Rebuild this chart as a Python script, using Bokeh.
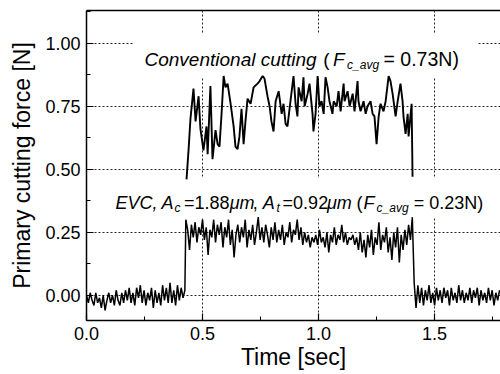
import numpy as np
from bokeh.plotting import figure
from bokeh.models import (Range1d, SingleIntervalTicker, PrintfTickFormatter, LinearAxis,
                          FixedTicker, Label, BoxAnnotation)
from bokeh.embed import file_html
from bokeh.resources import INLINE

# ---------------- data ----------------
# Conventional cutting signal
conv_t = [0.431, 0.440, 0.448, 0.461, 0.470, 0.483, 0.491, 0.504, 0.517, 0.522,
          0.534, 0.543, 0.556, 0.565, 0.573, 0.582, 0.591, 0.599, 0.608, 0.621,
          0.634, 0.642, 0.651, 0.659, 0.668, 0.677, 0.685, 0.694, 0.707, 0.720,
          0.737, 0.746, 0.759, 0.767, 0.780, 0.789, 0.797, 0.806, 0.815, 0.828,
          0.841, 0.849, 0.858, 0.866, 0.879, 0.892, 0.901, 0.909, 0.914, 0.927,
          0.935, 0.940, 0.953, 0.961, 0.974, 0.978, 0.987, 0.996, 1.004, 1.013,
          1.022, 1.030, 1.039, 1.047, 1.060, 1.065, 1.078, 1.086, 1.095, 1.108,
          1.112, 1.125, 1.134, 1.147, 1.155, 1.168, 1.172, 1.181, 1.194, 1.203,
          1.211, 1.224, 1.233, 1.241, 1.250, 1.259, 1.267, 1.280, 1.289, 1.302,
          1.310, 1.319, 1.332, 1.341, 1.353, 1.362, 1.366, 1.375, 1.384, 1.388,
          1.397, 1.401, 1.405]
conv_f = [0.46, 0.58, 0.70, 0.82, 0.69, 0.79, 0.66, 0.575, 0.67, 0.56,
          0.83, 0.54, 0.655, 0.60, 0.59, 0.72, 0.87, 0.825, 0.84, 0.76,
          0.67, 0.59, 0.58, 0.63, 0.74, 0.60, 0.69, 0.78, 0.76, 0.825,
          0.84, 0.85, 0.87, 0.86, 0.79, 0.75, 0.69, 0.65, 0.77, 0.81,
          0.72, 0.76, 0.68, 0.67, 0.77, 0.87, 0.76, 0.71, 0.825, 0.77,
          0.865, 0.75, 0.80, 0.84, 0.72, 0.65, 0.72, 0.87, 0.75, 0.77,
          0.72, 0.865, 0.825, 0.77, 0.72, 0.77, 0.75, 0.81, 0.73, 0.84,
          0.77, 0.81, 0.75, 0.80, 0.73, 0.85, 0.77, 0.73, 0.77, 0.72,
          0.75, 0.77, 0.72, 0.71, 0.60, 0.71, 0.76, 0.73, 0.77, 0.87,
          0.85, 0.80, 0.71, 0.77, 0.84, 0.77, 0.71, 0.64, 0.72, 0.63,
          0.72, 0.76, 0.47]

# EVC signal, sampled every 8 ms, in three stretches
evc_before_span = (0.0, 0.424)
evc_before = [0.00, -0.03, 0.01, -0.02, -0.04, 0.01, -0.03, -0.01, -0.05, 0.00,
              -0.06, -0.02, 0.01, -0.03, 0.00, -0.04, 0.02, -0.02, -0.04, 0.01,
              -0.03, 0.02, -0.02, 0.03, -0.03, 0.01, -0.04, 0.03, -0.01, 0.04,
              -0.03, 0.02, -0.04, 0.01, -0.02, 0.03, -0.05, 0.02, -0.03, 0.01,
              -0.04, 0.04, -0.02, 0.03, -0.03, 0.05, -0.03, 0.02, -0.04, 0.04,
              -0.02, 0.03, -0.01, 0.02]
evc_cut_span = (0.428, 1.404)
evc_cut = [0.30, 0.26, 0.18, 0.28, 0.23, 0.29, 0.21, 0.27, 0.24, 0.30,
           0.22, 0.27, 0.16, 0.26, 0.23, 0.30, 0.21, 0.28, 0.24, 0.29,
           0.19, 0.27, 0.23, 0.30, 0.20, 0.26, 0.15, 0.24, 0.28, 0.21,
           0.27, 0.23, 0.30, 0.19, 0.26, 0.22, 0.28, 0.20, 0.25, 0.31,
           0.22, 0.27, 0.21, 0.28, 0.24, 0.19, 0.27, 0.22, 0.29, 0.21,
           0.26, 0.22, 0.28, 0.20, 0.25, 0.23, 0.29, 0.21, 0.26, 0.24,
           0.30, 0.22, 0.27, 0.20, 0.25, 0.21, 0.24, 0.19, 0.23, 0.21,
           0.24, 0.20, 0.26, 0.21, 0.23, 0.19, 0.25, 0.17, 0.24, 0.21,
           0.27, 0.20, 0.24, 0.22, 0.28, 0.21, 0.25, 0.20, 0.23, 0.22,
           0.24, 0.20, 0.23, 0.18, 0.25, 0.17, 0.22, 0.15, 0.24, 0.19,
           0.26, 0.16, 0.23, 0.20, 0.29, 0.18, 0.24, 0.21, 0.27, 0.17,
           0.23, 0.14, 0.25, 0.19, 0.27, 0.13, 0.24, 0.18, 0.26, 0.20,
           0.28, 0.22, 0.31]
evc_after_span = (1.412, 1.780)
evc_after = [0.05, -0.05, 0.04, -0.03, 0.03, -0.04, 0.02, -0.02, 0.04, -0.03,
             0.01, -0.04, 0.03, -0.02, 0.02, -0.03, 0.03, -0.01, 0.02, -0.04,
             0.03, -0.02, 0.01, -0.03, 0.04, -0.02, 0.02, -0.03, 0.01, -0.02,
             0.03, -0.03, 0.02, -0.01, 0.03, -0.04, 0.02, -0.02, 0.01, -0.03,
             0.03, -0.02, 0.02, -0.04, 0.01, -0.02, 0.02]

x_ticks_interval = 0.5
y_ticks_interval = 0.25
x_title = "Time [sec]"
y_title = "Primary cutting force [N]"

# ---------------- build ----------------
evc_t = np.concatenate([np.linspace(*evc_before_span, len(evc_before)),
                        np.linspace(*evc_cut_span, len(evc_cut)),
                        np.linspace(*evc_after_span, len(evc_after))])
evc_f = np.array(evc_before + evc_cut + evc_after)

FONT = "Liberation Sans"

p = figure(width=500, height=374, output_backend="svg", toolbar_location=None,
           x_range=Range1d(0, 1.784), y_range=Range1d(-0.1, 1.13),
           min_border_left=86, min_border_right=0, min_border_top=10, min_border_bottom=54)
p.outline_line_color = None
p.background_fill_color = "white"
p.border_fill_color = "white"

for ax, iv, fmt in ((p.xaxis[0], x_ticks_interval, "%.1f"), (p.yaxis[0], y_ticks_interval, "%.2f")):
    ax.ticker = SingleIntervalTicker(interval=iv, num_minor_ticks=2)
    ax.formatter = PrintfTickFormatter(format=fmt)
    ax.major_tick_in = 7
    ax.major_tick_out = 0
    ax.minor_tick_in = 4
    ax.minor_tick_out = 0
    ax.axis_line_width = 1.5
    ax.major_tick_line_width = 1.2
    ax.major_label_text_font = FONT
    ax.major_label_text_font_size = "18px"
    ax.major_label_text_color = "black"
p.xaxis[0].major_label_standoff = 6
p.yaxis[0].major_label_standoff = 6


def title_axis(label, bounds, standoff):
    return LinearAxis(ticker=FixedTicker(ticks=[]), axis_line_color=None,
                      major_tick_line_color=None, minor_tick_line_color=None,
                      major_tick_in=0, major_tick_out=0, minor_tick_in=0, minor_tick_out=0,
                      major_label_standoff=0, major_label_text_font_size="0px",
                      bounds=bounds, axis_label=label, axis_label_standoff=standoff,
                      axis_label_text_font=FONT, axis_label_text_font_size="23px",
                      axis_label_text_font_style="normal", axis_label_text_color="black")


p.add_layout(title_axis(y_title, (0.0, 1.112), 8), "left")
p.add_layout(title_axis(x_title, (0.074, 1.784), 1), "below")

top = LinearAxis(ticker=FixedTicker(ticks=[]), axis_line_width=1.5,
                 major_label_text_font_size="0px", major_label_standoff=0)
p.add_layout(top, "above")

for g in (p.xgrid[0], p.ygrid[0]):
    g.grid_line_color = "black"
    g.grid_line_dash = "2 2"
    g.grid_line_width = 1
    g.grid_line_alpha = 0.85

# white backgrounds behind the annotations (they interrupt the grid)
p.add_layout(BoxAnnotation(left=0.203, right=1.685, bottom=0.865, top=1.04,
                           fill_color="white", fill_alpha=1, line_color=None, level="underlay"))
p.add_layout(BoxAnnotation(left=0.103, right=1.72, bottom=0.306, top=0.464,
                           fill_color="white", fill_alpha=1, line_color=None, level="underlay"))

p.line(evc_t, evc_f, line_color="black", line_width=1.5)
p.line(conv_t, conv_f, line_color="black", line_width=1.9)


def lab(x, y, text, size, style="normal"):
    p.add_layout(Label(x=x, y=y, text=text, text_font=FONT, text_font_size=size,
                       text_font_style=style, text_align="left", text_baseline="alphabetic",
                       text_color="black"))


# conventional annotation
yb, ys = 0.937, 0.913
lab(0.250, yb, "Conventional cutting", "19px", "italic")
lab(1.020, yb, "(", "19px")
lab(1.062, yb, "F", "19px", "italic")
lab(1.123, ys, "c_avg", "12px", "italic")
lab(1.280, yb, "= 0.73N)", "19.5px")

# EVC annotation
eb, es = 0.367, 0.345
lab(0.125, eb, "EVC,", "18px", "italic")
lab(0.323, eb, "A", "18px", "italic")
lab(0.379, es, "c", "12px", "italic")
lab(0.420, eb, "=1.88", "18px")
lab(0.617, eb, "\u03bcm", "18px", "italic")
lab(0.716, eb, ",", "18px")
lab(0.759, eb, "A", "18px", "italic")
lab(0.819, es, "t", "12px", "italic")
lab(0.845, eb, "=0.92", "18px")
lab(1.036, eb, "\u03bcm", "18px", "italic")
lab(1.164, eb, "(", "18px")
lab(1.194, eb, "F", "18px", "italic")
lab(1.250, es, "c_avg", "12px", "italic")
lab(1.410, eb, "= 0.23N)", "18px")

open("out.html", "w").write(file_html(p, INLINE))
